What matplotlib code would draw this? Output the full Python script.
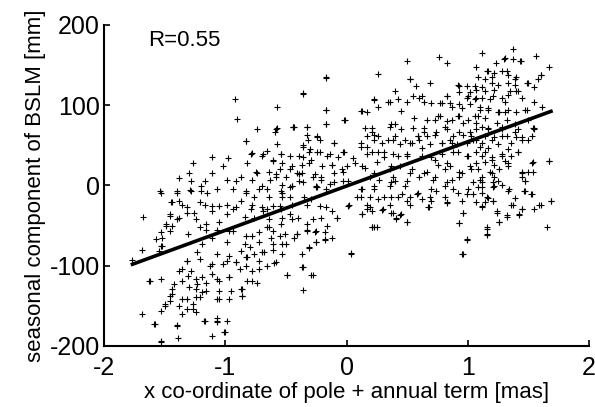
import numpy as np
import matplotlib.pyplot as plt

# scatter points: (x [mas], y [mm])
pts_left = [
    (-0.92,108),(-0.90,83),(-0.57,98),(-0.74,70),(-0.57,72),(-0.44,73),(-0.83,55),(-0.57,52),
    (-0.79,39),(-0.69,39),(-1.11,35),(-0.98,34),(-1.27,28),(-0.61,30),(-0.54,39),(-1.02,24),
    (-0.82,28),(-0.47,36),(-1.30,16),(-1.38,9),(-1.28,5),(-1.17,5),(-1.11,16),(-0.99,7),
    (-0.91,5),(-0.74,16),(-0.63,7),(-0.58,14),(-0.50,11),(-0.41,16),(-1.53,-9),(-1.40,-9),
    (-1.28,-7),(-1.20,-1),(-1.15,-9),(-1.07,-5),(-0.94,-5),(-0.83,-9),(-0.66,-5),(-0.53,-9),
    (-0.45,-1),(-1.54,-7),(-1.40,-7),(-1.29,-6),(-1.20,-7),(-1.45,-21),(-1.38,-20),(-1.32,-27),
    (-1.26,-34),(-1.17,-24),(-1.11,-32),(-1.05,-26),(-0.99,-36),(-0.94,-30),(-1.46,-38),(-1.40,-42),
    (-1.49,-51),(-1.46,-57),(-1.52,-65),(-1.53,-76),(-1.31,-61),(-1.21,-52),(-1.16,-48),(-1.07,-55),
    (-0.97,-57),(-1.11,-65),(-0.99,-70),(-1.19,-73),(-1.23,-83),(-1.32,-94),(-1.07,-86),(-0.97,-88),
    (-0.91,-96),(-1.13,-101),(-1.02,-98),(-1.38,-107),(-1.28,-107),(-1.19,-114),(-1.11,-110),(-1.05,-119),
    (-0.97,-114),(-1.62,-119),(-1.53,-117),(-1.42,-123),(-1.36,-119),(-1.30,-127),(-1.23,-123),(-1.16,-132),
    (-1.05,-132),(-0.95,-132),(-1.44,-135),(-1.46,-144),(-1.36,-142),(-1.27,-148),(-1.21,-139),(-1.32,-154),
    (-1.24,-158),(-1.50,-148),(-1.53,-157),(-1.05,-142),(-1.07,-169),(-1.17,-169),(-1.59,-173),(-1.40,-175),
    (-1.11,-188),(-1.01,-183),(-1.53,-194),(-1.39,-190),
    (-1.68,-39),(-1.69,-80),(-1.77,-93),(-1.63,-119),(-1.69,-160),(-1.58,-173),(-1.53,-195),(-1.40,-174),
    (-1.00,-183),(-1.07,-165),(-0.99,-169),(-1.07,-170),(-1.18,-169),(-1.49,-48),(-1.44,-51),(-1.53,-58),
    (-1.57,-67),(-1.52,-76),(-1.55,-82),(-1.46,-36),(-1.38,-40),(-1.32,-34),(-1.24,-42),(-1.44,-21),
    (-1.36,-24),(-1.21,-21),(-1.11,-26),(-0.99,-24),(-0.91,-27),(-0.78,-24),(-0.66,-30),(-0.55,-26),
    (-0.47,-36),(-1.16,-55),(-1.05,-46),(-0.94,-57),(-0.83,-63),(-0.72,-58),(-0.64,-52),(-0.55,-63),
    (-0.50,-73),(-0.61,-80),(-0.70,-83),(-0.82,-89),(-0.91,-96),(-0.99,-94),(-1.11,-98),(-1.21,-92),
    (-1.32,-94),(-1.36,-104),(-1.31,-113),(-1.24,-117),(-1.16,-121),(-1.07,-117),(-0.97,-114),(-0.88,-104),
    (-0.78,-119),(-0.66,-101),(-0.58,-96),(-0.49,-112),(-1.44,-129),(-1.46,-138),(-1.50,-150),(-1.38,-150),
    (-1.32,-142),(-1.24,-139),(-1.19,-133),(-1.24,-129),(-1.07,-142),(-0.97,-142),(-0.86,-138),(-0.87,-129),
    (-1.36,-160),(-1.27,-154),
]

pts_mid = [
    (-0.17,135),(-0.36,115),(-0.17,94),(-0.01,82),(-0.17,77),(-0.44,73),(-0.33,73),(-0.58,70),
    (-0.83,55),(-0.59,66),(-0.24,61),(-0.22,56),(-0.32,57),(-0.36,50),(-0.10,53),(-0.03,41),
    (-0.66,43),(-0.78,40),(-0.70,37),(-0.54,39),(-0.36,35),(-0.30,45),(-0.24,42),(-0.14,39),
    (-0.07,35),(0.05,34),(-0.61,32),(-0.53,28),(-0.45,24),(-0.37,26),(-0.31,28),(-0.20,24),
    (-0.12,26),(0.00,24),(-0.75,17),(-0.64,17),(-0.55,20),(-0.47,21),(-0.39,14),(-0.28,11),
    (-0.21,11),(-0.10,16),(-0.03,17),(-0.87,11),(-0.78,7),(-0.58,11),(-0.53,1),(-0.45,-1),
    (-0.36,4),(-0.25,-1),(-0.14,2),(-0.03,5),(-0.70,-1),
    (-0.83,-7),(-0.72,-4),(-0.54,-7),(-0.47,-2),(-0.25,-2),(-0.17,-5),(-0.76,-14),(-0.64,-15),
    (-0.53,-14),(-0.47,-15),(-0.35,-14),(-0.29,-17),(-0.87,-20),(-0.79,-29),(-0.70,-27),(-0.61,-26),
    (-0.54,-30),(-0.45,-24),(-0.33,-24),(-0.22,-26),(-0.17,-27),(0.02,-24),(0.09,-14),(-0.84,-39),
    (-0.76,-40),(-0.69,-32),(-0.64,-42),(-0.53,-40),(-0.45,-42),(-0.40,-40),(-0.33,-48),(-0.28,-42),
    (-0.21,-40),(-0.08,-40),(-0.66,-52),(-0.61,-57),(-0.54,-48),(-0.51,-60),(-0.41,-61),(-0.33,-55),
    (-0.25,-57),(-0.78,-63),(-0.84,-73),(-0.80,-77),(-0.72,-70),(-0.62,-65),(-0.61,-73),(-0.53,-73),
    (-0.43,-65),(-0.25,-70),(-0.18,-67),(-0.87,-82),(-0.76,-86),(-0.68,-83),(-0.53,-86),(-0.31,-77),
    (0.04,-86),(-0.83,-89),(-0.72,-94),(-0.60,-97),(-0.83,-101),(-0.78,-107),(-0.72,-104),(-0.49,-112),
    (-0.36,-102),(-0.28,-112),(-0.82,-119),(-0.74,-121),(-0.86,-129),(-0.86,-138),
    (-0.37,-86),(-0.37,-102),(-0.29,-112),(-0.36,-130),(-0.31,-78),(-0.25,-71),(-0.18,-68),(-0.12,-65),
    (-0.33,-57),(-0.26,-58),(-0.18,-58),(-0.16,-50),(-0.41,-61),(0.04,-84),(0.21,-52),(0.23,-52),
    (0.13,-36),(0.19,-27),(0.30,-30),(0.37,-34),(0.41,-40),(0.45,-36),(0.50,-46),(0.01,-26),
    (-0.08,-40),(-0.12,-32),(0.67,-27),(0.83,-22),(0.93,-47),(0.96,-34),(0.99,-68),(0.95,-85),
    (0.13,-5),(0.23,-5),(0.36,-1),(0.52,-15),(0.88,-5),(1.04,-11),(0.19,-14),(0.37,-14),
    (0.42,-14),(0.70,-20),(0.17,-30),(0.25,-52),(0.46,-11),(0.58,-11),(0.69,-15),(0.74,-7),
    (0.81,-14),(0.99,-11),(0.12,-14),(0.26,-17),(0.31,-15),(0.50,-20),(0.62,-17),(0.83,-21),
    (0.95,-20),(0.17,-24),(0.36,-24),(0.52,-24),(0.21,-32),(0.29,-31),(0.13,-36),(0.38,-34),
    (0.44,-37),(0.41,-42),(0.50,-45),(0.68,-27),(0.96,-34),(0.93,-47),(0.99,-67),(0.96,-86),
    (0.21,-52),
]

pts_right = [
    (1.12,165),(1.37,170),(1.56,161),(0.76,160),(0.83,153),(0.50,155),(1.23,153),(1.30,158),
    (1.44,155),(1.67,148),(1.07,148),(-0.17,134),(0.26,139),(-0.36,114),(0.52,132),(0.57,124),
    (0.69,128),(0.40,118),(0.92,125),(0.99,124),(1.06,124),(1.16,142),(1.20,135),(1.28,142),
    (1.33,138),(1.39,132),(1.50,128),(1.60,137),(1.55,122),(1.12,122),(1.22,119),(1.40,117),
    (1.33,113),(1.45,109),(1.00,111),(1.07,109),(0.93,116),(0.83,111),(-0.17,94),(-0.17,77),
    (-0.02,82),(0.12,93),(0.23,107),(0.34,104),(0.42,107),(0.55,111),(0.62,111),(0.70,103),
    (0.79,103),(0.87,98),(0.95,97),(1.02,101),(1.10,94),(1.17,97),(1.25,92),(1.33,94),
    (1.47,94),(1.55,104),(1.61,98),(0.17,91),(0.26,98),(0.21,72),(0.37,76),(0.45,70),
    (0.56,84),(0.64,72),(0.75,86),(0.81,73),(0.92,86),(1.00,82),(1.07,78),(1.17,72),
    (1.24,78),(1.28,73),(1.39,76),(1.50,82),(1.55,72),(-0.33,73),(-0.43,73),(-0.33,63),
    (-0.24,60),(-0.36,48),(-0.31,42),(-0.22,42),(-0.10,53),(-0.02,42),(0.12,48),(0.17,61),
    (0.23,63),(0.29,53),(0.34,57),(0.40,61),(0.48,57),(0.54,53),(0.59,61),(0.66,62),
    (0.73,63),(0.79,53),(0.87,53),(0.96,63),(1.03,61),(1.12,53),(1.20,57),(1.28,61),
    (1.36,53),(1.45,57),(1.53,61),(1.39,66),(0.21,41),(0.31,42),(0.42,36),(0.50,39),
    (0.62,36),(0.73,32),(0.83,28),(0.92,41),(1.00,36),(1.07,28),(1.14,41),(1.20,32),
    (1.28,36),(1.33,28),(1.41,42),(1.53,28),(1.67,31),(-0.39,36),(-0.29,32),(-0.16,36),
    (-0.12,26),(-0.04,20),(0.07,28),(0.15,22),(0.23,16),(0.37,24),(0.40,5),(0.52,16),
    (0.64,16),(0.73,11),(0.81,20),(0.87,7),(0.95,16),(1.03,20),(1.10,7),(1.20,16),
    (1.25,5),(1.45,17),(1.50,17),(1.47,5),(-0.37,16),(-0.26,14),(-0.21,7),(-0.39,5),
    (-0.24,-2),(-0.10,4),(0.01,5),(0.12,-5),(0.23,-1),(0.37,4),(0.48,-1),(0.59,-9),
    (0.70,-5),(0.81,-1),(0.92,-9),(1.00,-5),(1.12,-9),(1.22,-1),(1.33,-7),(1.47,-7),
    (1.53,-11),
    (0.52,133),(0.93,124),(1.02,116),(0.99,109),(1.06,107),(0.87,82),(0.93,86),(1.06,86),
    (0.40,76),(0.64,66),(0.93,66),(1.02,67),(0.17,48),(0.38,57),(0.52,53),(0.60,57),
    (0.85,57),(0.99,53),(1.04,57),(0.26,41),(0.38,39),(0.79,39),(0.88,41),(0.99,36),
    (1.07,41),(0.25,29),(0.44,24),(0.54,20),(0.85,24),(0.93,17),(1.02,24),(0.27,7),
    (0.38,11),(0.50,5),(0.60,11),(0.71,7),(1.04,4),(0.23,106),(0.36,104),(0.50,104),
    (0.60,109),(0.64,104),(0.77,103),(0.83,111),(0.85,103),(0.93,101),(0.13,93),(0.45,93),
    (0.66,81),(0.73,82),(0.77,87),(0.83,80),(0.96,78),(1.07,70),(0.15,71),(0.21,67),
    (0.26,62),(0.36,73),(0.55,71),(0.59,62),(0.74,66),(0.83,70),(0.88,61),(0.12,53),
    (0.23,57),(0.44,51),(0.69,51),(0.79,53),(0.91,51),(0.17,39),(0.31,35),(0.50,37),
    (0.62,47),(0.70,35),(0.13,24),(0.36,20),(0.66,17),(0.75,26),(0.19,11),(0.83,4),
    (0.93,10),
    (1.31,159),(1.37,157),(1.43,155),(1.17,142),(1.22,140),(1.32,142),(1.40,135),(1.49,127),
    (1.58,132),(1.60,138),(1.08,135),(1.14,132),(1.20,128),(1.25,125),(1.33,128),(1.39,125),
    (1.41,118),(1.07,119),(1.14,117),(1.21,111),(1.28,109),(1.35,117),(1.12,109),(1.18,107),
    (1.31,104),(1.10,98),(1.17,94),(1.26,92),(1.31,92),(1.40,91),(1.49,94),(1.08,86),
    (1.14,84),(1.32,82),(1.12,73),(1.17,70),(1.28,70),(1.41,70),(1.54,72),(1.55,70),
    (1.07,57),(1.14,61),(1.22,60),(1.32,61),(1.40,60),(1.45,60),(1.50,57),(1.10,48),
    (1.17,47),(1.25,51),(1.33,45),(1.41,41),(1.12,36),(1.20,35),(1.28,39),(1.36,36),
    (1.14,29),(1.22,26),(1.31,30),(1.08,20),(1.18,17),(1.26,20),(1.33,24),(1.45,16),
    (1.54,17),(1.54,29),(1.67,30),(1.12,11),(1.22,10),(1.45,11),(1.47,5),(1.12,4),
    (1.21,4),(1.28,1),
    (1.08,-2),(1.12,-2),(1.21,-2),(1.34,-5),(1.46,-7),(1.52,-11),(1.16,-14),(1.17,-16),
    (1.14,-21),(1.12,-27),(1.21,-19),(1.39,-16),(1.36,-24),(1.45,-30),(1.55,-30),(1.59,-24),
    (1.69,-19),(1.24,-32),(1.32,-39),(1.42,-37),(1.26,-46),(1.65,-52),(1.16,-52),(1.16,-62),
    (1.07,-21),(1.12,-26),(1.16,-54),(1.16,-61),(1.24,-34),(1.26,-46),(1.32,-37),(1.37,-24),
    (1.42,-36),(1.45,-29),(1.60,-24),(1.69,-20),(1.21,-20),
]

# regression line end points
fit_x = [-1.78, 1.70]
fit_y = [-99, 93]

plt.rcParams['font.family'] = ['Liberation Sans', 'DejaVu Sans']
plt.rcParams['axes.unicode_minus'] = False

fig = plt.figure(figsize=(5.95, 4.07), dpi=100)
ax = fig.add_axes([0.175, 0.150, 0.815, 0.789])

for pts in (pts_left, pts_mid, pts_right):
    xs = [p[0] for p in pts]
    ys = [p[1] for p in pts]
    ax.plot(xs, ys, '+', color='black', markersize=4.5, markeredgewidth=0.8)

ax.plot(fit_x, fit_y, color='black', linewidth=2.6, solid_capstyle='butt')

ax.set_xlim(-2, 2)
ax.set_ylim(-200, 200)
ax.set_xticks([-2, -1, 0, 1, 2])
ax.set_yticks([-200, -100, 0, 100, 200])
ax.spines['top'].set_visible(False)
ax.spines['right'].set_visible(False)
ax.spines['left'].set_linewidth(1.5)
ax.spines['bottom'].set_linewidth(1.5)
ax.tick_params(direction='in', length=4, width=1.2, labelsize=18)
ax.tick_params(axis='x', pad=7)
ax.tick_params(axis='y', pad=3)

ax.set_xlabel('x co-ordinate of pole + annual term [mas]', fontsize=16, labelpad=2)
ax.set_ylabel('seasonal component of BSLM [mm]', fontsize=16, labelpad=3)
ax.text(-1.64, 181, 'R=0.55', fontsize=16, va='center', ha='left')

fig.savefig('out.png', dpi=100)
